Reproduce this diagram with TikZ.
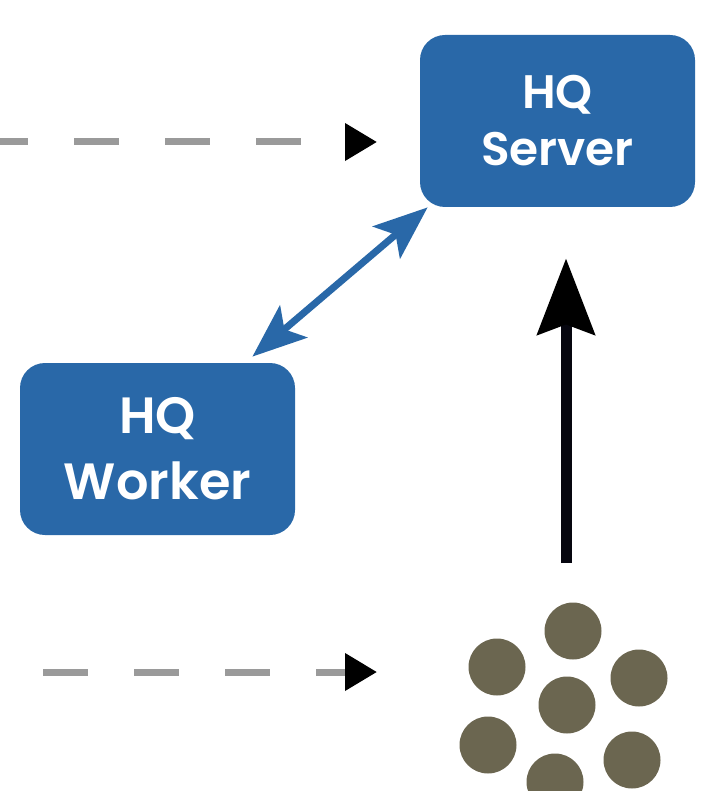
\documentclass[tikz,border=0pt]{standalone}
\usepackage{fontspec}
\setsansfont{Poppins}[BoldFont={Poppins SemiBold}]
\usetikzlibrary{positioning, calc, arrows.meta}
\definecolor{HqBlue}  {HTML}{2968A8}
\definecolor{FeedGray}{HTML}{9A9A9A}
\definecolor{TaskDot} {HTML}{6B6650}
\definecolor{PushInk} {HTML}{06060F}
\tikzset{
  every node/.style={font=\sffamily\bfseries},
  % boxes and dots
  hqbox/.style={fill=HqBlue, text=white, rounded corners=12.5pt,
                minimum width=137.5pt, minimum height=86pt,
                align=center, inner sep=0pt},
  taskdot/.style={circle, fill=TaskDot, minimum size=28.5pt, inner sep=0pt},
  % connectors
  feed/.style={draw=FeedGray, line width=3.5pt, dash pattern=on 22.5pt off 23pt,
               -{Triangle[length=16pt, width=18pt, color=black]}},
  link/.style={draw=HqBlue, line width=3.5pt,
               {Stealth[length=27pt, width=21pt, inset=6pt]}-{Stealth[length=27pt, width=21pt, inset=6pt]}},
  push/.style={draw=PushInk, line width=5.5pt,
               -{Stealth[length=38pt, width=28.5pt, inset=5pt, color=black]}},
}
\begin{document}
\begin{tikzpicture}[x=0.5pt, y=-0.5pt]
\clip (0,0) rectangle (724,791);
\node[hqbox, font=\sffamily\bfseries\fontsize{23.5}{28.5}\selectfont] (server) at (557.5,121) {HQ\\Server};
\node[hqbox, font=\sffamily\bfseries\fontsize{25.5}{33}\selectfont] (worker) at (157.5,449) {HQ\\Worker};
\node[taskdot] (t1) at (573,631) {};
\node[taskdot] (t2) at (497,667) {};
\node[taskdot] (t3) at (639,678) {};
\node[taskdot] (t4) at (567,705) {};
\node[taskdot] (t5) at (488,745) {};
\node[taskdot] (t6) at (632,760) {};
\node[taskdot] (t7) at (555,782) {};
\coordinate (feedA)    at (0,142);
\coordinate (feedAend) at (377,142);
\coordinate (feedB)    at (43,672);
\coordinate (feedBend) at (377,672);
\coordinate (src)      at (566,563);
\draw[feed, dash phase=8.5pt] (feedA) -- (feedAend);
\draw[feed] (feedB) -- (feedBend);
\draw[link] ($(server.south west)+(8,0)$) -- ($(worker.north east)+(-43,-6)$);
\draw[push] (src) -- ($(src |- server.south)+(0,51)$);
\end{tikzpicture}
\end{document}
